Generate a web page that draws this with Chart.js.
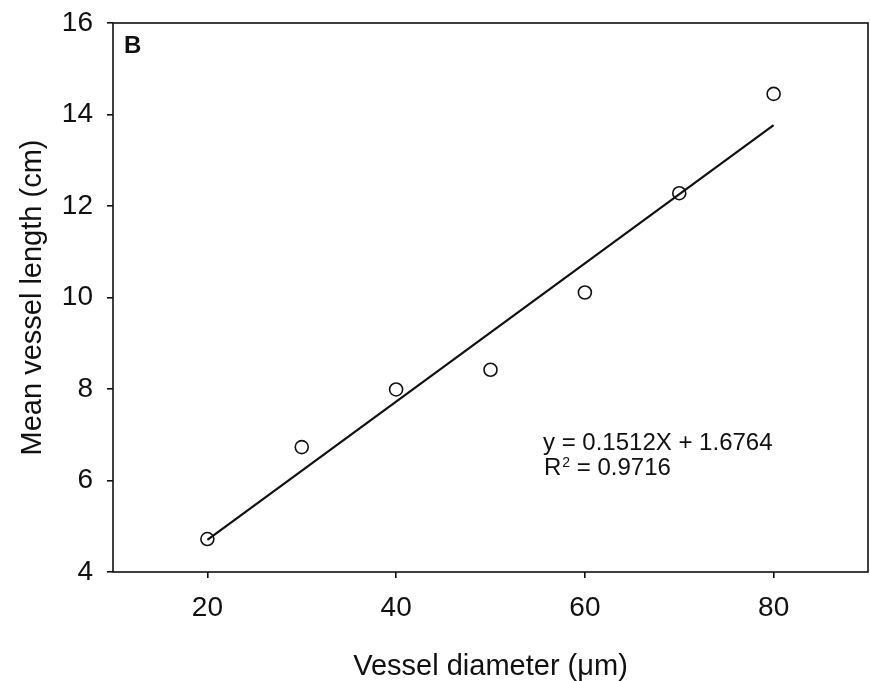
<!DOCTYPE html>
<html>
<head>
<meta charset="utf-8">
<script src="https://cdn.jsdelivr.net/npm/chart.js@4.4.0/dist/chart.umd.min.js"></script>
<style>
	html, body { margin: 0; padding: 0; background: #fff; }
	canvas { display: block; }
</style>
</head>
<body>
<canvas id="vessel-chart" width="870" height="681"></canvas>
<script>
// vessel diameter (um) vs mean vessel length (cm)
const diameters = [ 20, 30, 40, 50, 60, 70, 80 ];
const meanLengths = [ 4.72, 6.73, 7.99, 8.42, 10.11, 12.28, 14.45 ];
// fitted line, read at both ends
const fitX = [ 20, 80 ];
const fitY = [ 4.70, 13.77 ];
const xTicks = [ 20, 40, 60, 80 ];
const yTicks = [ 4, 6, 8, 10, 12, 14, 16 ];
const fitLabel = 'y = 0.1512X + 1.6764';
const r2Value = ' = 0.9716';

const FONT = 'Arial, "Liberation Sans", sans-serif';

document.addEventListener( 'DOMContentLoaded', function () {
	const points = diameters.map( ( d, i ) => ( { x: d, y: meanLengths[ i ] } ) );
	const fitLine = fitX.map( ( d, i ) => ( { x: d, y: fitY[ i ] } ) );

	const frameAndText = {
		id: 'frameAndText',
		afterDraw: ( chart ) => {
			const { ctx, chartArea } = chart;
			ctx.save();
			ctx.strokeStyle = '#111';
			ctx.lineWidth = 1.6;
			ctx.strokeRect(
				chartArea.left,
				chartArea.top,
				chartArea.right - chartArea.left,
				chartArea.bottom - chartArea.top
			);
			ctx.fillStyle = '#111';
			ctx.textBaseline = 'alphabetic';
			ctx.textAlign = 'left';
			ctx.font = 'bold 24px ' + FONT;
			ctx.fillText( 'B', chartArea.left + 11, chartArea.top + 30 );

			// regression text
			let tx = chartArea.left + 430,
				ty = chartArea.top + 427;
			ctx.font = '24px ' + FONT;
			ctx.fillText( fitLabel, tx, ty );
			ty += 24.5;
			ctx.fillText( 'R', tx + 1, ty );
			let w = ctx.measureText( 'R' ).width;
			ctx.font = '14px ' + FONT;
			ctx.fillText( '2', tx + 2 + w, ty - 8 );
			let w2 = ctx.measureText( '2' ).width;
			ctx.font = '24px ' + FONT;
			ctx.fillText( r2Value, tx + 2 + w + w2, ty );
			ctx.restore();
		},
	};

	const config = {
		type: 'scatter',
		data: {
			datasets: [
				{
					label: 'fit',
					type: 'line',
					data: fitLine,
					borderColor: '#111',
					borderWidth: 2.2,
					pointRadius: 0,
					fill: false,
					tension: 0,
				},
				{
					label: 'Mean vessel length',
					data: points,
					pointStyle: 'circle',
					pointRadius: 6.5,
					pointHoverRadius: 6.5,
					borderWidth: 1.6,
					borderColor: '#111',
					backgroundColor: 'rgba(0,0,0,0)',
				},
			],
		},
		plugins: [ frameAndText ],
		options: {
			responsive: false,
			animation: false,
			devicePixelRatio: 1,
			layout: {
				autoPadding: false,
				padding: { left: 0, top: 23, right: 2, bottom: 0 },
			},
			plugins: {
				legend: { display: false },
				tooltip: { enabled: false },
			},
			scales: {
				x: {
					type: 'linear',
					min: 10,
					max: 90,
					afterFit: ( scale ) => {
						scale.height = 109;
						scale.paddingLeft = 0;
						scale.paddingRight = 0;
					},
					afterBuildTicks: ( scale ) => {
						scale.ticks = xTicks.map( ( v ) => ( { value: v } ) );
					},
					grid: {
						drawOnChartArea: false,
						drawTicks: true,
						tickLength: 6,
						color: '#111',
						lineWidth: 1.6,
					},
					border: { display: false },
					ticks: {
						padding: 13,
						color: '#111',
						font: { family: FONT, size: 28 },
					},
					title: {
						display: true,
						text: 'Vessel diameter (μm)',
						color: '#111',
						font: { family: FONT, size: 29, lineHeight: 1 },
						padding: { top: 0, bottom: 0 },
					},
				},
				y: {
					type: 'linear',
					min: 4,
					max: 16,
					afterFit: ( scale ) => {
						scale.width = 113;
						scale.paddingTop = 0;
						scale.paddingBottom = 0;
					},
					afterBuildTicks: ( scale ) => {
						scale.ticks = yTicks.map( ( v ) => ( { value: v } ) );
					},
					grid: {
						drawOnChartArea: false,
						drawTicks: true,
						tickLength: 6,
						color: '#111',
						lineWidth: 1.6,
					},
					border: { display: false },
					ticks: {
						padding: 14,
						color: '#111',
						font: { family: FONT, size: 28 },
					},
					title: {
						display: true,
						text: 'Mean vessel length (cm)',
						color: '#111',
						font: { family: FONT, size: 29, lineHeight: 1 },
						padding: { top: 18, bottom: 0 },
					},
				},
			},
		},
	};

	new Chart( document.getElementById( 'vessel-chart' ), config );
} );
</script>
</body>
</html>
